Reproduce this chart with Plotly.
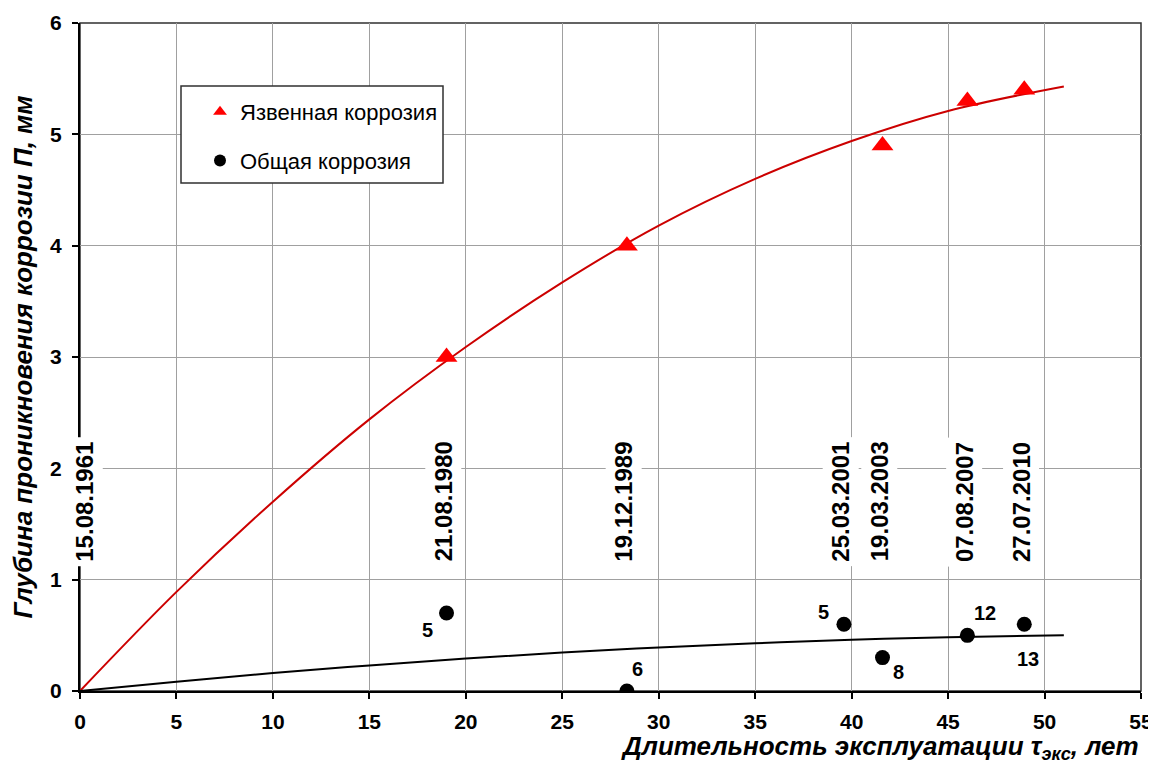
import plotly.graph_objects as go

# ---- data ----
dates = ["15.08.1961", "21.08.1980", "19.12.1989", "25.03.2001", "19.03.2003", "07.08.2007", "27.07.2010"]
date_years = [0.0, 19.0, 28.35, 39.6, 41.6, 46.0, 48.95]

pit_x = [19.0, 28.35, 41.6, 46.0, 48.95]
pit_y = [3.0, 4.0, 4.9, 5.3, 5.4]

gen_x = [19.0, 28.35, 39.6, 41.6, 46.0, 48.95]
gen_y = [0.7, 0.0, 0.6, 0.3, 0.5, 0.6]
gen_labels = ["5", "6", "5", "8", "12", "13"]

trend_x = [0, 5, 10, 15, 20, 25, 30, 35, 40, 45, 51]
pit_trend_y = [0.0, 0.89, 1.70, 2.44, 3.09, 3.67, 4.18, 4.60, 4.94, 5.21, 5.43]
gen_trend_y = [0.0, 0.084, 0.161, 0.230, 0.292, 0.345, 0.391, 0.429, 0.460, 0.483, 0.50]

x_ticks = [0, 5, 10, 15, 20, 25, 30, 35, 40, 45, 50, 55]
y_ticks = [0, 1, 2, 3, 4, 5, 6]

legend_names = ["Язвенная коррозия", "Общая коррозия"]
x_title = "<b><i>Длительность эксплуатации τ<sub>экс</sub>, лет</i></b>"
y_title = "<b><i>Глубина проникновения коррозии П, мм</i></b>"

FONT = "Liberation Sans, Arial, sans-serif"

fig = go.Figure()

fig.add_trace(go.Scatter(x=trend_x, y=pit_trend_y, mode="lines",
                         line=dict(color="#cc0000", width=2, shape="spline"),
                         showlegend=False, hoverinfo="skip"))
fig.add_trace(go.Scatter(x=trend_x, y=gen_trend_y, mode="lines",
                         line=dict(color="black", width=2, shape="spline"),
                         showlegend=False, hoverinfo="skip"))

fig.add_trace(go.Scatter(x=pit_x, y=pit_y, mode="markers", name=legend_names[0],
                         legendgroup="a",
                         marker=dict(symbol="triangle-up", size=19, color="#ff0000")))
fig.add_trace(go.Scatter(x=gen_x, y=gen_y, mode="markers", name=legend_names[1],
                         legendgroup="b",
                         marker=dict(symbol="circle", size=15, color="black")))

# date labels
date_shift = [5, -3, -3, -3, -3, -3, -3]
for d, xv, sh in zip(dates, date_years, date_shift):
    fig.add_annotation(x=xv, y=1.70, text=d, showarrow=False,
                       textangle=-90, bgcolor="white", borderpad=4, xshift=sh,
                       font=dict(family=FONT, size=24, color="black", weight="bold"))

# point labels
offsets = [(-19, -17), (11, 22), (-20, 12), (16, -14), (18, 22), (4, -35)]
for xv, yv, lab, (dx, dy) in zip(gen_x, gen_y, gen_labels, offsets):
    fig.add_annotation(x=xv, y=yv, text=lab, showarrow=False,
                       xshift=dx, yshift=dy,
                       font=dict(family=FONT, size=20, color="black", weight="bold"))

# x axis title (right aligned)
fig.add_annotation(xref="paper", yref="paper", x=1.0, y=0, yshift=-56,
                   xanchor="right", yanchor="middle", showarrow=False,
                   text=x_title, font=dict(family=FONT, size=26, color="black"))

# plot frame (top/right) and legend box
fig.add_shape(type="rect", xref="paper", yref="paper", x0=0, x1=1, y0=0, y1=1,
              line=dict(color="#303030", width=1.5), layer="below")
fig.add_shape(type="rect", xref="paper", yref="paper",
              x0=(181 - 80) / 1061, x1=(443 - 80) / 1061,
              y0=(691 - 183) / 668, y1=(691 - 86) / 668,
              line=dict(color="#303030", width=1.5), fillcolor="white", layer="above")

tickfont = dict(family=FONT, size=21, color="black", weight="bold")

# page body has an 8px default margin: size the figure so it fits the 1156x760 window
fig.update_layout(
    width=1148, height=752,
    margin=dict(l=72, r=15, t=15, b=69),
    plot_bgcolor="white", paper_bgcolor="white",
    font=dict(family=FONT, color="black"),
    legend=dict(x=(200 - 80) / 1061, y=(691 - 91) / 668, xanchor="left", yanchor="top",
                bgcolor="rgba(0,0,0,0)", borderwidth=0, itemsizing="constant",
                tracegroupgap=17, font=dict(family=FONT, size=22, color="black")),
    xaxis=dict(range=[0, 55], tickvals=x_ticks, showgrid=True, gridcolor="#a0a0a0",
               gridwidth=1, showline=True, linecolor="black", linewidth=2,
               ticks="outside", ticklen=6, tickwidth=2, tickcolor="black",
               ticklabelstandoff=5,
               tickfont=tickfont, zeroline=False, automargin=False),
    yaxis=dict(range=[0, 6], tickvals=y_ticks, showgrid=True, gridcolor="#a0a0a0",
               gridwidth=1, showline=True, linecolor="black", linewidth=2,
               ticks="outside", ticklen=6, tickwidth=2, tickcolor="black",
               ticklabelstandoff=6,
               tickfont=tickfont, zeroline=False, automargin=False,
               title=dict(text=y_title, standoff=10,
                          font=dict(family=FONT, size=26, color="black"))),
)

fig.write_html("out.html")
